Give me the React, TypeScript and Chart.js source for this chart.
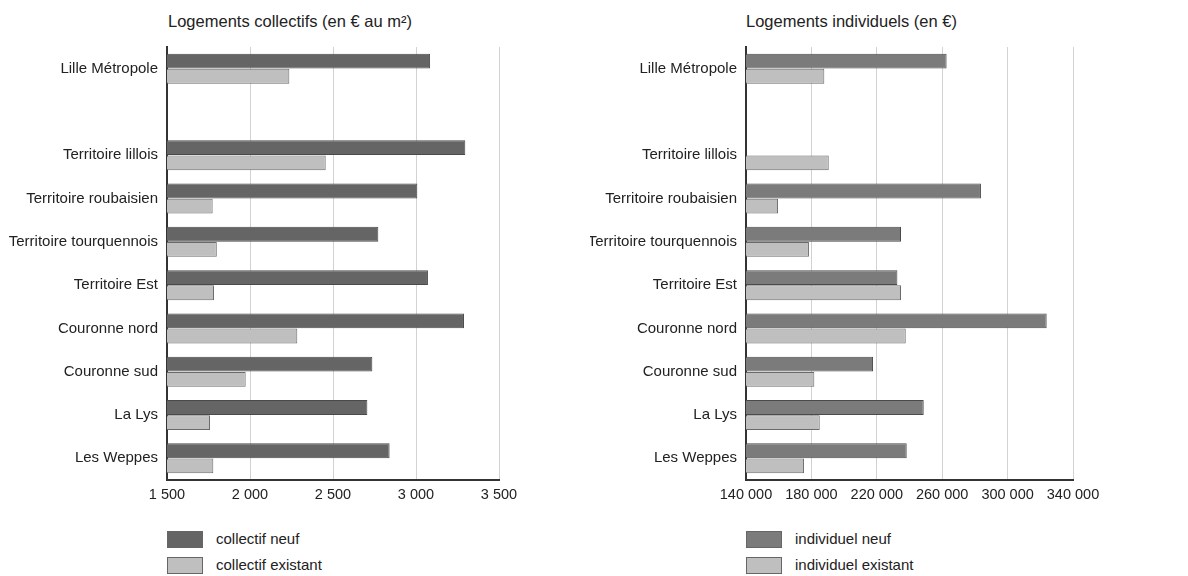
import React, { useEffect, useRef } from "react";
import { Chart, registerables } from "chart.js";

Chart.register(...registerables);

const categories = [
  "Lille Métropole",
  "",
  "Territoire lillois",
  "Territoire roubaisien",
  "Territoire tourquennois",
  "Territoire Est",
  "Couronne nord",
  "Couronne sud",
  "La Lys",
  "Les Weppes",
];

const collectifNeuf = [3085, null, 3297, 3008, 2773, 3072, 3289, 2737, 2707, 2841];
const collectifExistant = [2237, null, 2456, 1775, 1800, 1783, 2285, 1974, 1759, 1779];

const individuelNeuf = [262700, null, null, 283700, 234800, 232600, 323900, 217700, 248700, 238300];
const individuelExistant = [187900, null, 190600, 159600, 178500, 234800, 237700, 181800, 185100, 175500];

const leftTicks = [1500, 2000, 2500, 3000, 3500];
const rightTicks = [140000, 180000, 220000, 260000, 300000, 340000];

const FONT = "'Liberation Sans', Arial, sans-serif";

function fmt(v: number): string {
  return String(Math.round(v)).replace(/\B(?=(\d{3})+(?!\d))/g, " ");
}

type PanelProps = {
  neuf: (number | null)[];
  existant: (number | null)[];
  ticks: number[];
  neufColor: string;
  labelNeuf: string;
  labelExistant: string;
  yWidth: number;
  width: number;
  padRight: number;
};

function BarPanel(p: PanelProps) {
  const ref = useRef<HTMLCanvasElement | null>(null);
  useEffect(() => {
    if (!ref.current) return;
    const min = p.ticks[0];
    const max = p.ticks[p.ticks.length - 1];
    const chart = new Chart(ref.current, {
      type: "bar",
      data: {
        labels: categories,
        datasets: [
          {
            label: p.labelNeuf,
            data: p.neuf,
            backgroundColor: p.neufColor,
            borderColor: "#4a4a4a",
            borderWidth: 1,
            borderSkipped: false,
            categoryPercentage: 0.7,
            barPercentage: 0.98,
          },
          {
            label: p.labelExistant,
            data: p.existant,
            backgroundColor: "#bfbfbf",
            borderColor: "#6a6a6a",
            borderWidth: 1,
            borderSkipped: false,
            categoryPercentage: 0.7,
            barPercentage: 0.98,
          },
        ],
      },
      options: {
        indexAxis: "y",
        responsive: false,
        animation: false,
        devicePixelRatio: 1,
        layout: { padding: { top: 47, right: p.padRight, left: 0, bottom: 0 } },
        plugins: {
          legend: { display: false },
          title: { display: false },
          tooltip: { enabled: false },
        },
        scales: {
          x: {
            type: "linear",
            min,
            max,
            afterBuildTicks: (scale: any) => {
              scale.ticks = p.ticks.map((v) => ({ value: v }));
            },
            afterFit: (scale: any) => {
              scale.height = 30;
            },
            ticks: {
              font: { family: FONT, size: 14.5 },
              color: "#222",
              padding: 6,
              maxRotation: 0,
              callback: (v: any) => fmt(Number(v)),
            },
            grid: {
              color: "#d2d2d2",
              lineWidth: 1,
              drawTicks: false,
            },
            border: { display: true, color: "#333", width: 2 },
          },
          y: {
            type: "category",
            afterFit: (scale: any) => {
              scale.width = p.yWidth;
            },
            ticks: {
              font: { family: FONT, size: 15 },
              color: "#222",
              padding: 9,
              autoSkip: false,
            },
            grid: { display: false, drawTicks: false },
            border: { display: true, color: "#333", width: 2 },
          },
        },
      },
    });
    return () => chart.destroy();
  }, []);
  return <canvas ref={ref} width={p.width} height={510} />;
}

const titleStyle: React.CSSProperties = {
  position: "absolute",
  top: 12,
  fontFamily: FONT,
  fontSize: 16.5,
  color: "#222",
  whiteSpace: "nowrap",
};

function Legend(props: { left: number; neufColor: string; a: string; b: string }) {
  const box = (c: string, top: number) => (
    <div
      style={{
        position: "absolute",
        left: props.left,
        top,
        width: 36,
        height: 17,
        background: c,
        border: "1px solid #666",
        boxSizing: "border-box",
      }}
    />
  );
  const txt = (t: string, top: number) => (
    <div
      style={{
        position: "absolute",
        left: props.left + 49,
        top,
        fontFamily: FONT,
        fontSize: 15,
        color: "#222",
        whiteSpace: "nowrap",
      }}
    >
      {t}
    </div>
  );
  return (
    <>
      {box(props.neufColor, 531)}
      {txt(props.a, 530)}
      {box("#bfbfbf", 557)}
      {txt(props.b, 556)}
    </>
  );
}

export default function App() {
  return (
    <div
      style={{
        position: "fixed",
        left: 0,
        top: 0,
        width: 1188,
        height: 576,
        background: "#fff",
        overflow: "hidden",
      }}
    >
      <div style={{ ...titleStyle, left: 168 }}>Logements collectifs (en € au m²)</div>
      <div style={{ ...titleStyle, left: 746 }}>Logements individuels (en €)</div>
      <div style={{ position: "absolute", left: 0, top: 0 }}>
        <BarPanel
          neuf={collectifNeuf}
          existant={collectifExistant}
          ticks={leftTicks}
          neufColor="#656565"
          labelNeuf="collectif neuf"
          labelExistant="collectif existant"
          yWidth={167}
          width={560}
          padRight={61}
        />
      </div>
      <div style={{ position: "absolute", left: 590, top: 0 }}>
        <BarPanel
          neuf={individuelNeuf}
          existant={individuelExistant}
          ticks={rightTicks}
          neufColor="#7b7b7b"
          labelNeuf="individuel neuf"
          labelExistant="individuel existant"
          yWidth={156}
          width={598}
          padRight={115}
        />
      </div>
      <Legend left={167} neufColor="#656565" a="collectif neuf" b="collectif existant" />
      <Legend left={746} neufColor="#7b7b7b" a="individuel neuf" b="individuel existant" />
    </div>
  );
}
